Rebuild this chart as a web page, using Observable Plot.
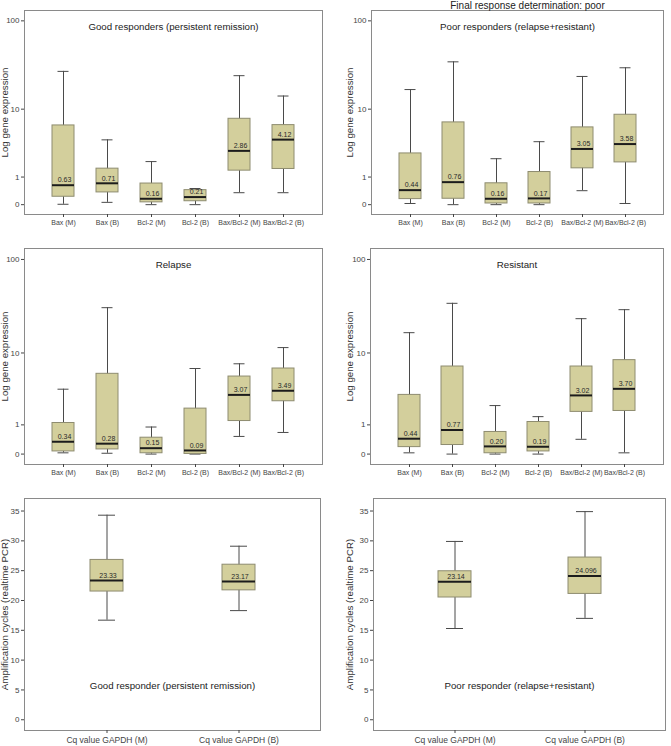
<!DOCTYPE html>
<html><head><meta charset="utf-8">
<script src="https://cdn.jsdelivr.net/npm/d3@7"></script>
<script src="https://cdn.jsdelivr.net/npm/@observablehq/plot@0.6"></script>
<style>
body{margin:0;background:#fff;}
#wrap{position:relative;width:671px;height:746px;overflow:hidden;background:#fff;font-family:"Liberation Sans",Arial,sans-serif;}
#wrap > div{position:absolute;}
</style></head><body><div id="wrap"></div>
<script>
// ---------- data ----------
const genes = ["Bax (M)", "Bax (B)", "Bcl-2 (M)", "Bcl-2 (B)", "Bax/Bcl-2 (M)", "Bax/Bcl-2 (B)"];
const cqCategories = ["Cq value GAPDH (M)", "Cq value GAPDH (B)"];
const logTicks = [0, 1, 10, 100];
const cqTicks = [0, 5, 10, 15, 20, 25, 30, 35];

// Good responders (persistent remission)
const goodLow = [0.01, 0.06, 0, 0, 0.35, 0.35];
const goodQ1 = [0.22, 0.36, 0.06, 0.09, 1.35, 1.45];
const goodMed = [0.63, 0.71, 0.16, 0.21, 2.86, 4.12];
const goodQ3 = [6.31, 1.47, 0.70, 0.44, 7.64, 6.37];
const goodHigh = [27.4, 4.09, 1.95, 0.50, 24.5, 14.3];

// Poor responders (relapse+resistant)
const poorLow = [0.03, 0, 0, 0, 0.42, 0.03];
const poorQ1 = [0.15, 0.16, 0.03, 0.03, 1.49, 1.89];
const poorMed = [0.44, 0.76, 0.16, 0.17, 3.05, 3.58];
const poorQ3 = [2.62, 6.89, 0.71, 1.27, 5.96, 8.56];
const poorHigh = [17.0, 35.1, 2.17, 3.86, 24.0, 30.1];

// Relapse
const relLow = [0.03, 0.02, 0, 0, 0.52, 0.67];
const relQ1 = [0.065, 0.117, 0.02, 0.003, 1.19, 2.50];
const relMed = [0.34, 0.28, 0.15, 0.09, 3.07, 3.49];
const relQ3 = [1.09, 5.71, 0.475, 1.94, 5.29, 6.61];
const relHigh = [3.66, 31.2, 0.90, 6.61, 7.51, 11.5];

// Resistant
const resLow = [0.03, 0, 0, 0, 0.42, 0.03];
const resQ1 = [0.18, 0.24, 0.02, 0.065, 1.72, 1.78];
const resMed = [0.44, 0.77, 0.20, 0.19, 3.02, 3.70];
const resQ3 = [3.07, 6.98, 0.69, 1.14, 6.98, 8.28];
const resHigh = [16.8, 34.7, 2.16, 1.43, 23.8, 29.7];

// GAPDH Cq, good responder
const cqGoodLow = [16.7, 18.3];
const cqGoodQ1 = [21.5, 21.7];
const cqGoodMed = [23.33, 23.17];
const cqGoodQ3 = [26.8, 26.0];
const cqGoodHigh = [34.3, 29.1];

// GAPDH Cq, poor responder
const cqPoorLow = [15.3, 17.0];
const cqPoorQ1 = [20.5, 21.1];
const cqPoorMed = [23.14, 24.096];
const cqPoorQ3 = [24.9, 27.2];
const cqPoorHigh = [29.9, 34.9];

// ---------- drawing ----------
const FONT = '"Liberation Sans", Arial, sans-serif';
const fmt = v => { const s = String(v); const dec = (s.split(".")[1] || "").length; return v.toFixed(Math.max(2, dec)); };

function panel(o) {
  const rows = o.cats.map((c, i) => ({cat: c, lo: o.lo[i], q1: o.q1[i], med: o.med[i], q3: o.q3[i], hi: o.hi[i]}));
  const isLog = o.log;
  const marks = [
    Plot.frame({stroke: "#8a8a8a"}),
    Plot.axisY({ticks: o.yTicks, tickFormat: d => String(d), tickSize: 3, tickPadding: 2, fontSize: 8, color: "#444", label: null}),
    Plot.axisX({tickSize: 3, tickPadding: 3, fontSize: o.xFont, color: "#444", label: null}),
    Plot.ruleX(rows, {x: "cat", y1: "lo", y2: "hi", stroke: "#4a4a4a", strokeWidth: 1}),
    Plot.tickY(rows, {x: "cat", y: "lo", stroke: "#4a4a4a", insetLeft: o.cap, insetRight: o.cap}),
    Plot.tickY(rows, {x: "cat", y: "hi", stroke: "#4a4a4a", insetLeft: o.cap, insetRight: o.cap}),
    Plot.barY(rows, {x: "cat", y1: "q1", y2: "q3", fill: "#d3cf9c", stroke: "#8e8c70", strokeWidth: 1}),
    Plot.tickY(rows, {x: "cat", y: "med", stroke: "#1c1c1c", strokeWidth: 2}),
    Plot.text(rows, {x: "cat", y: "med", text: d => fmt(d.med), dy: -5, dx: 1, fontSize: 7, fill: "#2a2a2a"}),
    Plot.text([o.title], {text: d => d, frameAnchor: o.titleAnchor, lineAnchor: "bottom", dy: o.titleDy, fontSize: 9.7, fill: "#222"}),
    Plot.text([o.yLabel], {text: d => d, frameAnchor: "left", rotate: -90, lineAnchor: "bottom", textAnchor: "middle", dx: o.yLabelDx, fontSize: 9.7, fill: "#333"})
  ];
  if (o.extra) marks.push(Plot.text([o.extra], {text: d => d, frameAnchor: "top", lineAnchor: "bottom", dy: -1.5, dx: 10, fontSize: 10, fill: "#222"}));
  const chart = Plot.plot({
    width: o.width, height: o.height,
    marginLeft: o.m[0], marginRight: o.m[1], marginTop: o.m[2], marginBottom: o.m[3],
    style: {fontFamily: FONT, background: "transparent", overflow: "visible"},
    x: {type: "band", domain: o.cats, paddingInner: o.padIn, paddingOuter: o.padOut, label: null},
    y: isLog ? {type: "symlog", constant: 1, domain: [-0.28, 130], label: null}
             : {type: "linear", domain: [-1.8, 37.1], label: null},
    marks
  });
  const holder = document.createElement("div");
  holder.style.left = o.left + "px";
  holder.style.top = o.top + "px";
  holder.appendChild(chart);
  document.getElementById("wrap").appendChild(holder);
}

const common = {cats: genes, log: true, yTicks: logTicks, padIn: 0.5, padOut: 0.59, cap: 5.5, xFont: 7, titleAnchor: "top", titleDy: 19.5, yLabel: "Log gene expression"};
panel({...common, lo: goodLow, q1: goodQ1, med: goodMed, q3: goodQ3, hi: goodHigh,
  title: "Good responders (persistent remission)", left: 0, top: 0, width: 330, height: 240, m: [24, 8, 10, 26], yLabelDx: -17});
panel({...common, lo: poorLow, q1: poorQ1, med: poorMed, q3: poorQ3, hi: poorHigh,
  title: "Poor responders (relapse+resistant)", left: 330, top: 0, width: 341, height: 240, m: [41, 8, 10, 26], yLabelDx: -19,
  extra: "Final response determination: poor"});
panel({...common, lo: relLow, q1: relQ1, med: relMed, q3: relQ3, hi: relHigh,
  title: "Relapse", left: 0, top: 240, width: 330, height: 250, m: [24, 8, 8, 26], yLabelDx: -17});
panel({...common, lo: resLow, q1: resQ1, med: resMed, q3: resQ3, hi: resHigh,
  title: "Resistant", left: 330, top: 240, width: 341, height: 250, m: [40, 8, 8, 26], yLabelDx: -18});

const cqCommon = {cats: cqCategories, log: false, yTicks: cqTicks, padIn: 0.75, padOut: 0.49, cap: 8, xFont: 8.5, titleAnchor: "bottom", titleDy: -42, yLabel: "Amplification cycles (realtime PCR)"};
panel({...cqCommon, lo: cqGoodLow, q1: cqGoodQ1, med: cqGoodMed, q3: cqGoodQ3, hi: cqGoodHigh,
  title: "Good responder (persistent remission)", left: 0, top: 490, width: 330, height: 256, m: [24, 10, 8, 16], yLabelDx: -17});
panel({...cqCommon, lo: cqPoorLow, q1: cqPoorQ1, med: cqPoorMed, q3: cqPoorQ3, hi: cqPoorHigh,
  title: "Poor responder (relapse+resistant)", left: 330, top: 490, width: 341, height: 256, m: [43, 6, 8, 16], yLabelDx: -21});
</script>
</body></html>
